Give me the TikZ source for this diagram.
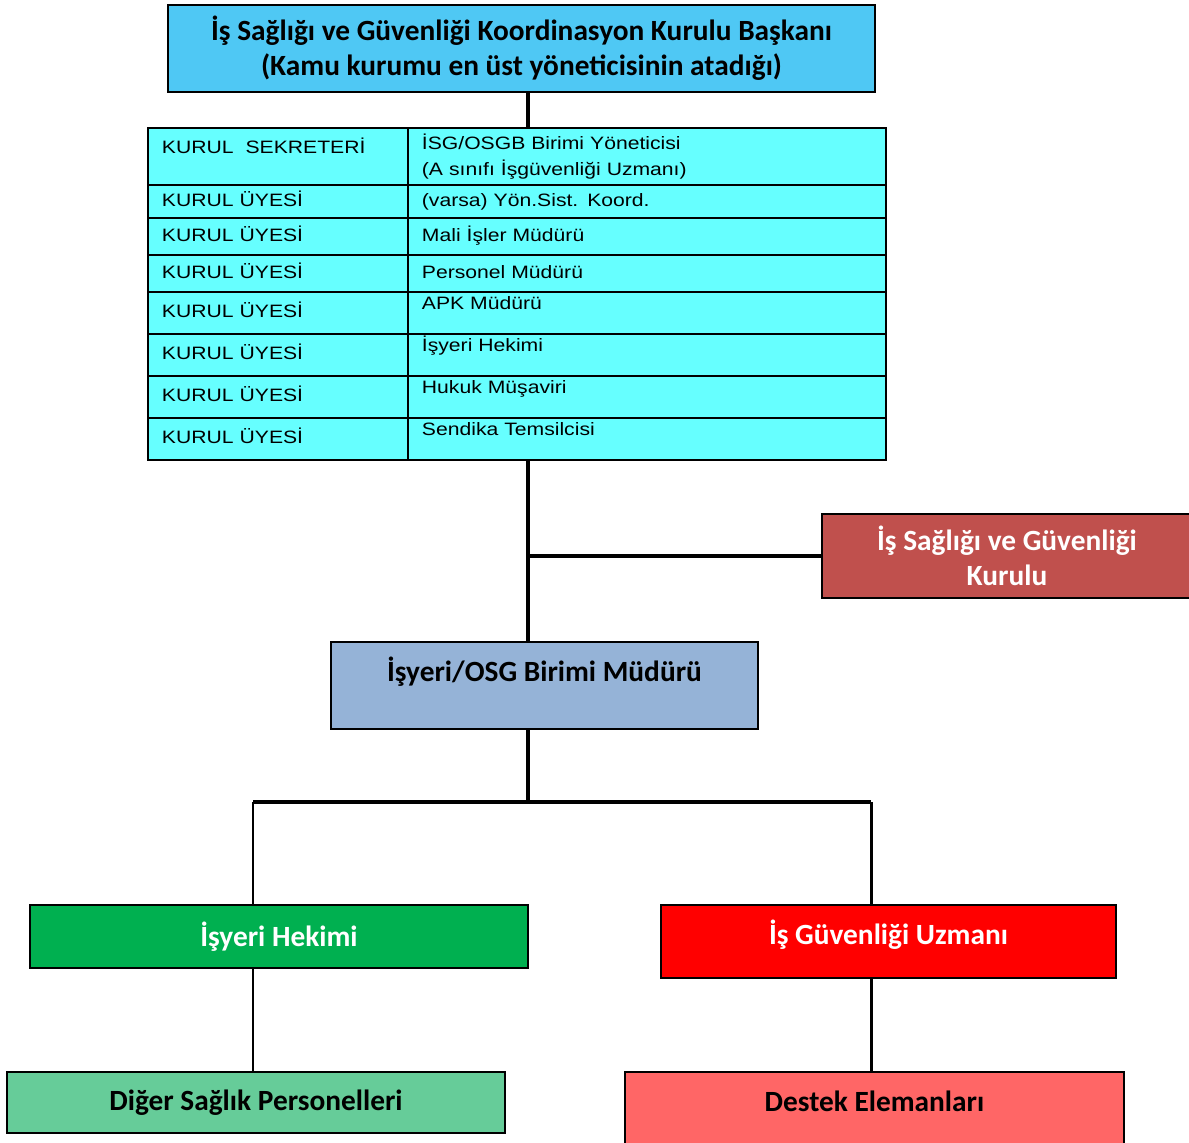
\documentclass[tikz,border=0pt]{standalone}
\usepackage{fontspec}
\setmainfont{Liberation Sans}
\newfontfamily\boxfont{Carlito}
\newfontfamily\cellfont[FakeStretch=1.18]{Liberation Sans}
\usepackage{tikz}
\usetikzlibrary{positioning}
\definecolor{baskanblue}{HTML}{4FC8F4}
\definecolor{tablecyan}{HTML}{66FFFF}
\definecolor{kurulred}{HTML}{C0504D}
\definecolor{mudurblue}{HTML}{95B3D7}
\definecolor{hekimgreen}{HTML}{00B050}
\definecolor{uzmanred}{HTML}{FF0000}
\definecolor{digergreen}{HTML}{66CC99}
\definecolor{destekred}{HTML}{FF6666}
\tikzstyle{box} = [rectangle, draw=black, line width=1.1pt, text centered, align=center, font=\boxfont\bfseries\fontsize{16.7}{20}\selectfont]
\tikzstyle{cell} = [rectangle, draw=black, line width=1.1pt, fill=tablecyan, align=left, inner xsep=0.28cm, inner ysep=0pt, outer sep=0pt, font=\cellfont\fontsize{10.2}{14.8}\selectfont]
\tikzstyle{onecell} = [text height=0.3cm, text depth=0.1cm]
\tikzstyle{upcell} = [onecell, text depth=0.42cm]
\tikzstyle{leftcell} = [cell, text width=4.64cm]
\tikzstyle{rightcell} = [cell, text width=9cm]
\tikzstyle{conn} = [line width=2.5pt]
\tikzstyle{thinconn} = [line width=1.7pt]

\begin{document}
\begin{tikzpicture}[x=0.02cm, y=-0.02cm]
	\useasboundingbox (0,0) rectangle (1189,1142);
	\coordinate (spine) at (528,0);
	\coordinate (lx) at (253,0);
	\coordinate (rx) at (871,0);
	\coordinate (bar) at (0,802);
	% baskan
	\node (baskan) [box, fill=baskanblue, minimum width=14.14cm, minimum height=1.74cm] at (521.5,48.5) {İş Sağlığı ve Güvenliği Koordinasyon Kurulu Başkanı\\(Kamu kurumu en üst yöneticisinin atadığı)};
	% kurul table
	\node (l1) [leftcell, upcell, minimum height=1.14cm, anchor=north west] at (148,128) {KURUL\ \ SEKRETERİ};
	\node (r1) [rightcell, minimum height=1.14cm, right=0pt of l1] {İSG/OSGB Birimi Yöneticisi\\(A sınıfı İşgüvenliği Uzmanı)};
	\node (l2) [leftcell, onecell, minimum height=0.66cm, below=0pt of l1] {KURUL ÜYESİ};
	\node (r2) [rightcell, onecell, minimum height=0.66cm, right=0pt of l2] {(varsa) Yön.Sist. Koord.};
	\node (l3) [leftcell, onecell, minimum height=0.74cm, below=0pt of l2] {KURUL ÜYESİ};
	\node (r3) [rightcell, onecell, minimum height=0.74cm, right=0pt of l3] {Mali İşler Müdürü};
	\node (l4) [leftcell, onecell, minimum height=0.74cm, below=0pt of l3] {KURUL ÜYESİ};
	\node (r4) [rightcell, onecell, minimum height=0.74cm, right=0pt of l4] {Personel Müdürü};
	\node (l5) [leftcell, onecell, minimum height=0.84cm, below=0pt of l4] {KURUL ÜYESİ};
	\node (r5) [rightcell, upcell, minimum height=0.84cm, right=0pt of l5] {APK Müdürü};
	\node (l6) [leftcell, onecell, minimum height=0.84cm, below=0pt of l5] {KURUL ÜYESİ};
	\node (r6) [rightcell, upcell, minimum height=0.84cm, right=0pt of l6] {İşyeri Hekimi};
	\node (l7) [leftcell, onecell, minimum height=0.84cm, below=0pt of l6] {KURUL ÜYESİ};
	\node (r7) [rightcell, upcell, minimum height=0.84cm, right=0pt of l7] {Hukuk Müşaviri};
	\node (l8) [leftcell, onecell, minimum height=0.84cm, below=0pt of l7] {KURUL ÜYESİ};
	\node (r8) [rightcell, upcell, minimum height=0.84cm, right=0pt of l8] {Sendika Temsilcisi};
	% boxes below
	\node (kurulu) [box, fill=kurulred, text=white, minimum width=7.4cm, minimum height=1.68cm] at (1007,556) {İş Sağlığı ve Güvenliği\\Kurulu};
	\node (mudur) [box, fill=mudurblue, text height=0.45cm, text depth=0.63cm, minimum width=8.54cm, minimum height=1.74cm] at (544.5,685.5) {İşyeri/OSG Birimi Müdürü};
	\node (hekim) [box, fill=hekimgreen, text=white, minimum width=9.96cm, minimum height=1.26cm] at (279,936.5) {İşyeri Hekimi};
	\node (uzman) [box, fill=uzmanred, text=white, text height=0.45cm, text depth=0.35cm, minimum width=9.1cm, minimum height=1.46cm] at (888.5,941.5) {İş Güvenliği Uzmanı};
	\node (diger) [box, fill=digergreen, minimum width=9.96cm, minimum height=1.22cm] at (256,1102.5) {Diğer Sağlık Personelleri};
	\node (destek) [box, fill=destekred, text height=0.45cm, text depth=0.45cm, minimum width=9.98cm, minimum height=1.56cm] at (874.5,1111) {Destek Elemanları};
	% connectors
	\draw [conn] (baskan.south -| spine) -- (r1.north -| spine);
	\draw [conn] (r8.south -| spine) -- (mudur.north -| spine);
	\draw [conn] (spine |- kurulu.west) -- (kurulu.west);
	\draw [conn] (mudur.south -| spine) -- (spine |- bar);
	\draw [conn] (lx |- bar) -- (rx |- bar);
	\draw [thinconn] (lx |- bar) -- (hekim.north -| lx);
	\draw [thinconn] (rx |- bar) -- (uzman.north -| rx);
	\draw [thinconn] (hekim.south -| lx) -- (diger.north -| lx);
	\draw [thinconn] (uzman.south -| rx) -- (destek.north -| rx);
\end{tikzpicture}
\end{document}
